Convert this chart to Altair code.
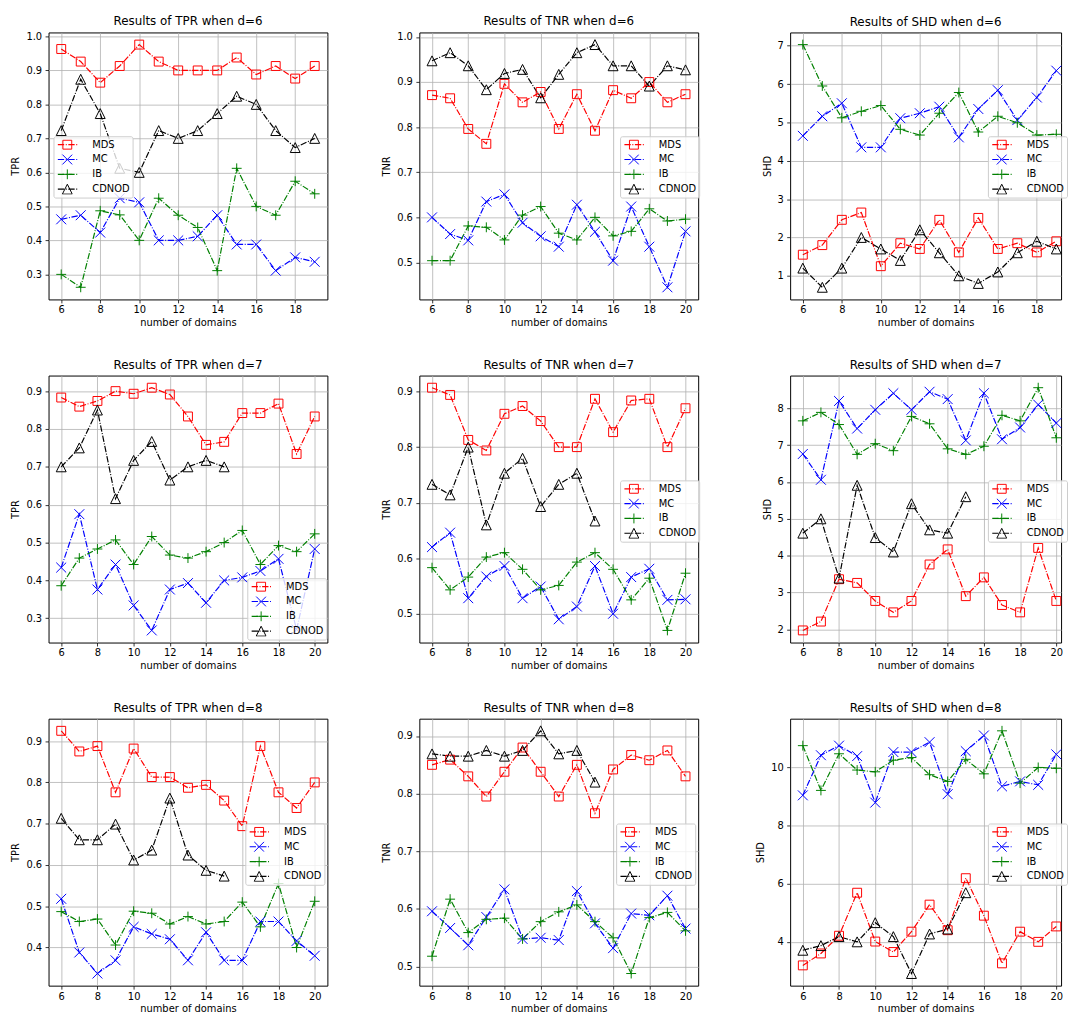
import altair as alt
import pandas as pd

SERIES = ["MDS", "MC", "IB", "CDNOD"]
COLORS = ["#ff0000", "#0000ff", "#008000", "#000000"]
SHAPES = [
    "M-0.9,-0.9L0.9,-0.9L0.9,0.9L-0.9,0.9Z",
    "M-1,-1L1,1M-1,1L1,-1",
    "M-1,0L1,0M0,-1L0,1",
    "M0,-1L1,1L-1,1Z",
]
DASH = [6.4, 1.6, 1.0, 1.6]
X_TICKS = [6, 8, 10, 12, 14, 16, 18, 20]

X_6_19 = list(range(6, 20))
X_6_20 = list(range(6, 21))
X_6_15 = list(range(6, 16))

# ---- d = 6 ----
tpr6_mds = [0.963, 0.926, 0.864, 0.913, 0.976, 0.926, 0.900, 0.900, 0.900, 0.938, 0.888, 0.913, 0.876, 0.913]
tpr6_mc = [0.462, 0.474, 0.423, 0.524, 0.512, 0.400, 0.400, 0.412, 0.474, 0.388, 0.388, 0.311, 0.350, 0.337]
tpr6_ib = [0.300, 0.262, 0.487, 0.475, 0.400, 0.524, 0.474, 0.438, 0.311, 0.612, 0.500, 0.474, 0.574, 0.537]
tpr6_cd = [0.723, 0.874, 0.773, 0.612, 0.600, 0.723, 0.700, 0.723, 0.773, 0.824, 0.800, 0.723, 0.673, 0.700]

tnr6_mds = [0.871, 0.864, 0.796, 0.763, 0.896, 0.855, 0.878, 0.796, 0.873, 0.792, 0.882, 0.864, 0.900, 0.855, 0.873]
tnr6_mc = [0.600, 0.563, 0.549, 0.635, 0.651, 0.588, 0.558, 0.535, 0.628, 0.568, 0.504, 0.624, 0.535, 0.445, 0.569]
tnr6_ib = [0.504, 0.504, 0.581, 0.578, 0.550, 0.605, 0.624, 0.565, 0.550, 0.600, 0.559, 0.569, 0.619, 0.592, 0.596]
tnr6_cd = [0.947, 0.965, 0.936, 0.883, 0.919, 0.928, 0.865, 0.917, 0.965, 0.983, 0.936, 0.936, 0.891, 0.936, 0.927]

shd6_mds = [1.55, 1.80, 2.46, 2.65, 1.25, 1.85, 1.70, 2.46, 1.61, 2.51, 1.70, 1.85, 1.61, 1.90]
shd6_mc = [4.65, 5.16, 5.50, 4.35, 4.35, 5.11, 5.24, 5.41, 4.61, 5.35, 5.84, 5.06, 5.65, 6.35]
shd6_ib = [7.03, 5.95, 5.12, 5.29, 5.44, 4.82, 4.67, 5.24, 5.78, 4.75, 5.16, 4.99, 4.67, 4.69]
shd6_cd = [1.20, 0.70, 1.20, 2.00, 1.70, 1.40, 2.20, 1.60, 1.00, 0.80, 1.10, 1.60, 1.90, 1.70]

# ---- d = 7 ----
tpr7_mds = [0.883, 0.859, 0.874, 0.900, 0.893, 0.909, 0.891, 0.833, 0.758, 0.766, 0.842, 0.842, 0.867, 0.734, 0.833]
tpr7_mc = [0.434, 0.575, 0.376, 0.442, 0.334, 0.268, 0.376, 0.393, 0.341, 0.400, 0.408, 0.425, 0.457, 0.270, 0.483]
tpr7_ib = [0.386, 0.459, 0.483, 0.507, 0.442, 0.516, 0.467, 0.459, 0.476, 0.500, 0.532, 0.442, 0.492, 0.476, 0.523]
tpr7_cd = [0.700, 0.750, 0.850, 0.616, 0.717, 0.767, 0.665, 0.700, 0.717, 0.700]

tnr7_mds = [0.907, 0.894, 0.813, 0.794, 0.860, 0.874, 0.847, 0.800, 0.800, 0.887, 0.827, 0.884, 0.887, 0.800, 0.870]
tnr7_mc = [0.620, 0.646, 0.528, 0.567, 0.586, 0.528, 0.549, 0.490, 0.513, 0.586, 0.500, 0.566, 0.581, 0.525, 0.526]
tnr7_ib = [0.583, 0.543, 0.566, 0.602, 0.610, 0.580, 0.543, 0.551, 0.593, 0.610, 0.580, 0.525, 0.564, 0.470, 0.573]
tnr7_cd = [0.733, 0.714, 0.800, 0.660, 0.753, 0.780, 0.693, 0.733, 0.753, 0.667]

shd7_mds = [1.97, 2.21, 3.36, 3.26, 2.77, 2.46, 2.77, 3.76, 4.17, 2.90, 3.41, 2.66, 2.46, 4.21, 2.77]
shd7_mc = [6.76, 6.06, 8.20, 7.45, 7.96, 8.41, 7.96, 8.45, 8.25, 7.13, 8.41, 7.16, 7.48, 8.10, 7.60]
shd7_ib = [7.66, 7.89, 7.56, 6.75, 7.04, 6.85, 7.78, 7.58, 6.90, 6.75, 6.97, 7.81, 7.66, 8.56, 7.20]
shd7_cd = [4.61, 5.00, 3.39, 5.91, 4.49, 4.10, 5.41, 4.70, 4.61, 5.60]

# ---- d = 8 ----
tpr8_mds = [0.925, 0.875, 0.888, 0.776, 0.882, 0.813, 0.813, 0.787, 0.794, 0.756, 0.694, 0.888, 0.776, 0.738, 0.800]
tpr8_mc = [0.518, 0.388, 0.337, 0.369, 0.450, 0.433, 0.420, 0.369, 0.437, 0.369, 0.369, 0.463, 0.463, 0.416, 0.380]
tpr8_ib = [0.487, 0.463, 0.469, 0.406, 0.488, 0.483, 0.457, 0.475, 0.457, 0.463, 0.510, 0.450, 0.555, 0.400, 0.512]
tpr8_cd = [0.713, 0.661, 0.661, 0.699, 0.612, 0.636, 0.762, 0.624, 0.587, 0.573]

tnr8_mds = [0.850, 0.859, 0.830, 0.795, 0.838, 0.880, 0.838, 0.795, 0.850, 0.766, 0.842, 0.867, 0.858, 0.875, 0.830]
tnr8_mc = [0.596, 0.567, 0.537, 0.586, 0.634, 0.548, 0.550, 0.546, 0.631, 0.575, 0.532, 0.592, 0.589, 0.623, 0.566]
tnr8_ib = [0.518, 0.617, 0.559, 0.582, 0.584, 0.548, 0.578, 0.595, 0.607, 0.578, 0.550, 0.488, 0.585, 0.594, 0.562]
tnr8_cd = [0.869, 0.865, 0.865, 0.875, 0.865, 0.875, 0.909, 0.869, 0.875, 0.820]

shd8_mds = [3.19, 3.60, 4.21, 5.69, 4.01, 3.65, 4.35, 5.28, 4.40, 6.19, 4.90, 3.26, 4.35, 4.00, 4.53]
shd8_mc = [9.04, 10.42, 10.75, 10.39, 8.79, 10.53, 10.53, 10.87, 9.08, 10.56, 11.10, 9.35, 9.52, 9.40, 10.45]
shd8_ib = [10.75, 9.21, 10.47, 9.91, 9.85, 10.25, 10.34, 9.75, 9.52, 10.28, 9.78, 11.26, 9.46, 10.00, 9.97]
shd8_cd = [3.71, 3.87, 4.18, 4.00, 4.66, 4.18, 2.91, 4.27, 4.44, 5.69]

TPR_TICKS_6 = [0.3, 0.4, 0.5, 0.6, 0.7, 0.8, 0.9, 1.0]
TNR_TICKS_6 = [0.5, 0.6, 0.7, 0.8, 0.9, 1.0]
SHD_TICKS_6 = [1, 2, 3, 4, 5, 6, 7]
TPR_TICKS_7 = [0.3, 0.4, 0.5, 0.6, 0.7, 0.8, 0.9]
TNR_TICKS_7 = [0.5, 0.6, 0.7, 0.8, 0.9]
SHD_TICKS_7 = [2, 3, 4, 5, 6, 7, 8]
TPR_TICKS_8 = [0.4, 0.5, 0.6, 0.7, 0.8, 0.9]
TNR_TICKS_8 = [0.5, 0.6, 0.7, 0.8, 0.9]
SHD_TICKS_8 = [4, 6, 8, 10]

PLOT_W = 282
PLOT_W_LAST = 274
PLOT_H = 270
FONT = "DejaVu Sans"


def legend_line(lx, ly):
    return alt.Legend(
        title=None, orient="none", legendX=lx, legendY=ly,
        symbolType="M-2.5,0L2.5,0", symbolSize=64, symbolStrokeWidth=1.2,
        symbolDash=DASH, symbolOffset=6.4, labelOffset=19.8,
        clipHeight=11, rowPadding=4, padding=3,
        fillColor="rgba(255,255,255,0.8)", strokeColor="#cccccc", cornerRadius=2,
        labelFont=FONT, labelFontSize=10, labelColor="black", labelLimit=300,
    )


def legend_marker(lx, ly):
    return alt.Legend(
        title=None, orient="none", legendX=lx, legendY=ly,
        symbolSize=100, symbolStrokeWidth=1, symbolOffset=5.5,
        clipHeight=11, rowPadding=4, padding=3,
        labelExpr="''", labelFontSize=10, labelOffset=0,
    )


def make_panel(metric, d, xs_main, xs_cd, vals, yticks, yfmt, width, lx, ly):
    rows = []
    for s, v in zip(SERIES, vals):
        xs = xs_cd if s == "CDNOD" else xs_main
        for x, y in zip(xs, v):
            rows.append({"x": x, "value": y, "series": s, "series_b": s})
    df = pd.DataFrame(rows)
    xmin, xmax = df["x"].min(), df["x"].max()
    xspan = xmax - xmin
    xlo, xhi = xmin - 0.05 * xspan, xmax + 0.05 * xspan
    xhi_vis = xlo + (xhi - xlo) * width / PLOT_W
    ymin, ymax = df["value"].min(), df["value"].max()
    yspan = ymax - ymin
    ylo, yhi = ymin - 0.05 * yspan, ymax + 0.05 * yspan
    xt = [t for t in X_TICKS if xlo <= t <= xhi_vis]
    yt = [t for t in yticks if ylo <= t <= yhi]

    x_enc = alt.X("x:Q", scale=alt.Scale(domain=[xlo, xhi_vis], nice=False, zero=False),
                  axis=alt.Axis(values=xt, format="d", title="number of domains"))
    y_enc = alt.Y("value:Q", scale=alt.Scale(domain=[ylo, yhi], nice=False, zero=False),
                  axis=alt.Axis(values=yt, format=yfmt, title=metric))

    base = alt.Chart(df)
    lines = base.mark_line(strokeWidth=1.2, strokeDash=DASH).encode(
        x=x_enc, y=y_enc,
        color=alt.Color("series:N", scale=alt.Scale(domain=SERIES, range=COLORS),
                        legend=legend_line(lx, ly)),
    )
    points = base.mark_point(filled=False, size=100, strokeWidth=1, opacity=1).encode(
        x=x_enc, y=y_enc,
        color=alt.Color("series_b:N", scale=alt.Scale(domain=SERIES, range=COLORS),
                        legend=legend_marker(lx, ly)),
        shape=alt.Shape("series_b:N", scale=alt.Scale(domain=SERIES, range=SHAPES),
                        legend=legend_marker(lx, ly)),
    )
    return alt.layer(lines, points).resolve_scale(color="independent", shape="independent").properties(
        width=width, height=PLOT_H, title=f"Results of {metric} when d={d}"
    )


panels = [
    make_panel("TPR", 6, X_6_19, X_6_19, [tpr6_mds, tpr6_mc, tpr6_ib, tpr6_cd], TPR_TICKS_6, ".1f", PLOT_W, 5, 105),
    make_panel("TNR", 6, X_6_20, X_6_20, [tnr6_mds, tnr6_mc, tnr6_ib, tnr6_cd], TNR_TICKS_6, ".1f", PLOT_W, 203, 105),
    make_panel("SHD", 6, X_6_19, X_6_19, [shd6_mds, shd6_mc, shd6_ib, shd6_cd], SHD_TICKS_6, "d", PLOT_W_LAST, 200, 105),
    make_panel("TPR", 7, X_6_20, X_6_15, [tpr7_mds, tpr7_mc, tpr7_ib, tpr7_cd], TPR_TICKS_7, ".1f", PLOT_W, 201, 205),
    make_panel("TNR", 7, X_6_20, X_6_15, [tnr7_mds, tnr7_mc, tnr7_ib, tnr7_cd], TNR_TICKS_7, ".1f", PLOT_W, 203, 106),
    make_panel("SHD", 7, X_6_20, X_6_15, [shd7_mds, shd7_mc, shd7_ib, shd7_cd], SHD_TICKS_7, "d", PLOT_W_LAST, 200, 106),
    make_panel("TPR", 8, X_6_20, X_6_15, [tpr8_mds, tpr8_mc, tpr8_ib, tpr8_cd], TPR_TICKS_8, ".1f", PLOT_W, 199, 106),
    make_panel("TNR", 8, X_6_20, X_6_15, [tnr8_mds, tnr8_mc, tnr8_ib, tnr8_cd], TNR_TICKS_8, ".1f", PLOT_W, 199, 106),
    make_panel("SHD", 8, X_6_20, X_6_15, [shd8_mds, shd8_mc, shd8_ib, shd8_cd], SHD_TICKS_8, "d", PLOT_W_LAST, 200, 106),
]

chart = alt.concat(
    *panels, columns=3, spacing={"row": 77, "column": 93}, bounds="flush"
).resolve_scale(
    color="independent", shape="independent"
).resolve_legend(
    color="independent", shape="independent"
).properties(
    padding={"left": 2, "top": 0, "right": 0, "bottom": 0}, background="white"
).configure_view(
    stroke="black", strokeWidth=1
).configure_axis(
    labelFont=FONT, labelFontSize=10, labelColor="black",
    titleFont=FONT, titleFontSize=10, titleFontWeight="normal", titleColor="black",
    tickColor="black", tickSize=3.5, tickWidth=0.8, domain=False,
    gridColor="#b0b0b0", gridWidth=0.8, gridOpacity=1,
).configure_axisX(
    labelPadding=2, titlePadding=3,
).configure_axisY(
    labelPadding=3.5, titlePadding=5,
).configure_title(
    font=FONT, fontSize=12, fontWeight="normal", color="black", offset=4,
)

chart.save("out.html", embed_options={"renderer": "svg", "actions": False})
